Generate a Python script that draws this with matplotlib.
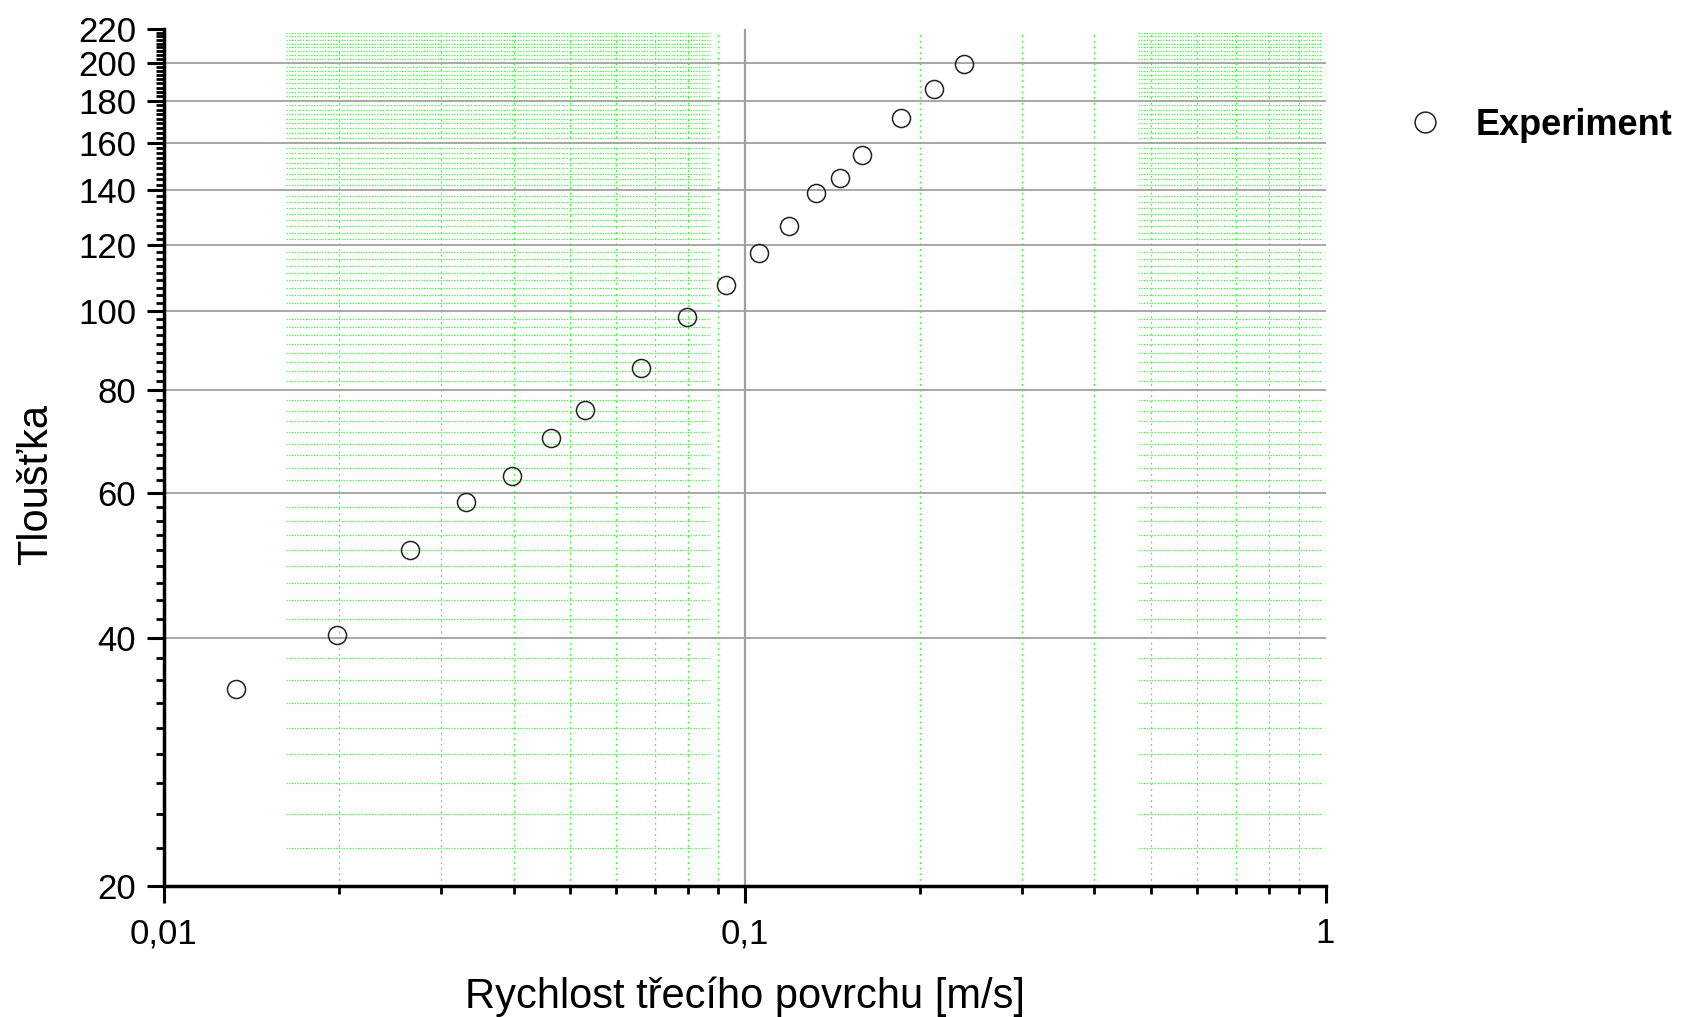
import matplotlib
matplotlib.use('Agg')
import matplotlib.pyplot as plt
import numpy as np
from matplotlib.ticker import FixedLocator, NullFormatter

plt.rcParams['font.family'] = ['Liberation Sans', 'DejaVu Sans']

# data
rychlost = [0.0133, 0.0199, 0.0265, 0.0331, 0.0398, 0.0464, 0.0530, 0.0662, 0.0795,
            0.0927, 0.106, 0.119, 0.1325, 0.146, 0.159, 0.1855, 0.212, 0.2385]
tloustka = [34.7, 40.3, 51.2, 58.6, 63.0, 70.0, 75.8, 85.2, 98.3,
            107.5, 117.5, 126.7, 138.9, 145.1, 154.4, 171.6, 185.8, 199.5]

x_major = [0.01, 0.1, 1]
x_major_labels = ['0,01', '0,1', '1']
x_minor = [0.02, 0.03, 0.04, 0.05, 0.06, 0.07, 0.08, 0.09,
           0.2, 0.3, 0.4, 0.5, 0.6, 0.7, 0.8, 0.9]
y_major = [20, 40, 60, 80, 100, 120, 140, 160, 180, 200, 220]
y_minor = [20 + k * 20 / 9 for k in range(1, 90) if k % 9 != 0]

fig = plt.figure(figsize=(16.83, 10.17), dpi=100)
ax = fig.add_axes([0.0974, 0.1293, 0.6902, 0.8422])
ax.set_xscale('log')
ax.set_yscale('log')
ax.set_xlim(0.01, 1)
ax.set_ylim(20, 220)

# green dotted minor grid (only partly drawn in the original)
green = '#33ff33'
for lo, hi in [(0.0162, 0.0871), (0.4755, 0.988)]:
    ax.hlines(y_minor, lo, hi, colors=green, linestyles=(0, (1, 1.2)), linewidth=0.9, zorder=1)
ax.vlines(x_minor, 20, 217.8, colors=green, linestyles=(0, (1.5, 3)), linewidth=0.9, zorder=1)

# gray major grid
ax.hlines(y_major[1:-1], 0.01, 1, colors='#a0a0a0', linewidth=1.3, zorder=2)
ax.vlines([0.1], 20, 220, colors='#a0a0a0', linewidth=1.6, zorder=2)

ax.plot(rychlost, tloustka, 'o', markersize=13, markerfacecolor='none',
        markeredgecolor='#222222', markeredgewidth=1.1, label='Experiment', zorder=5, clip_on=False)

ax.xaxis.set_major_locator(FixedLocator(x_major))
ax.xaxis.set_minor_locator(FixedLocator(x_minor))
ax.set_xticklabels(x_major_labels)
ax.xaxis.set_minor_formatter(NullFormatter())
ax.yaxis.set_major_locator(FixedLocator(y_major))
ax.yaxis.set_minor_locator(FixedLocator(y_minor))
ax.set_yticklabels([str(v) for v in y_major])
ax.yaxis.set_minor_formatter(NullFormatter())

for s in ['top', 'right']:
    ax.spines[s].set_visible(False)
for s in ['left', 'bottom']:
    ax.spines[s].set_linewidth(2.5)

ax.tick_params(which='major', direction='out', length=12, width=2.2, labelsize=25, pad=8)
ax.tick_params(which='minor', direction='out', length=6, width=2.0)
ax.tick_params(axis='x', which='major', pad=11)

fig.text(0.4424, 1 - 1008 / 1017, 'Rychlost třecího povrchu [m/s]', fontsize=30,
         ha='center', va='baseline')
fig.text(47 / 1683, 1 - 484.6 / 1017, 'Tloušťka', fontsize=30, rotation=90,
         rotation_mode='anchor', ha='center', va='baseline')

leg = ax.legend(loc='center left', bbox_to_anchor=(0.8372, 0.877), bbox_transform=fig.transFigure,
                frameon=False, handlelength=0.9, handletextpad=0.95, borderpad=0, borderaxespad=0,
                prop={'size': 26, 'weight': 'bold'}, markerscale=1.15)

fig.savefig('out.png', dpi=100)
